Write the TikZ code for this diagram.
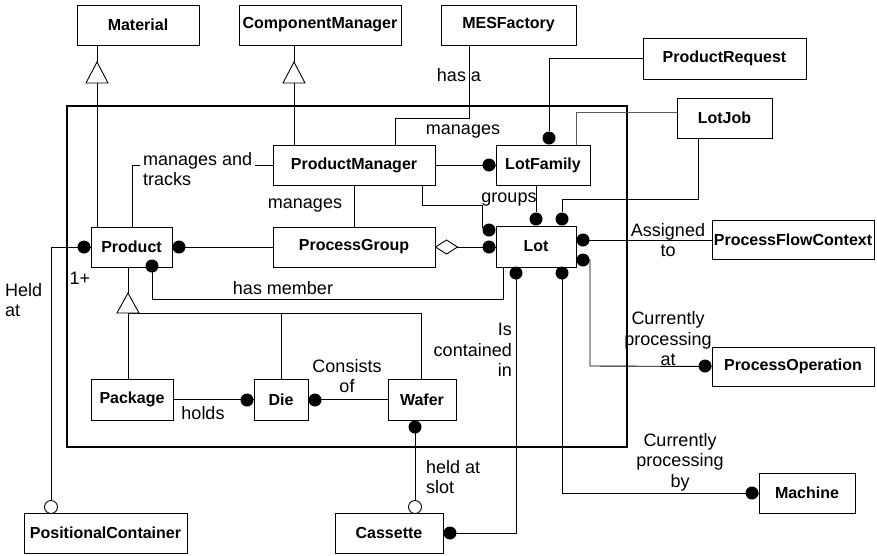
\documentclass[tikz,border=0pt]{standalone}
\usepackage{fontspec}
\setmainfont{Liberation Sans}
\newcommand\dotat[1]{\fill (#1) circle (6.5pt);}
\newcommand\odotat[1]{\filldraw[fill=white, line width=0.9pt] (#1) circle (6.5pt);}
\begin{document}
\begin{tikzpicture}[x=1pt,y=-1pt,
  box/.style={draw, line width=1pt, inner sep=0pt, font=\fontsize{16}{18}\selectfont\bfseries},
  sz/.style 2 args={minimum width=#1pt, minimum height=#2pt},
  lbl/.style={font=\fontsize{18}{20.5}\selectfont, inner sep=0pt, align=center},
  conn/.style={line width=0.9pt},
  faint/.style={line width=0.6pt, black!65}]
\useasboundingbox (0,0) rectangle (877,555);
% frame
\draw[line width=2pt] (67,106) rectangle (627,447);
% boxes
\node[box, sz={122}{40}] (Material) at (138,25) {Material};
\node[box, sz={162}{40}] (ComponentManager) at (320,25) {ComponentManager};
\node[box, sz={135}{40}] (MESFactory) at (508.5,25) {MESFactory};
\node[box, sz={163}{41}] (ProductRequest) at (724.5,58.5) {ProductRequest};
\node[box, sz={95}{40}] (LotJob) at (724.5,118) {LotJob};
\node[box, sz={162}{40}] (ProductManager) at (354,165) {ProductManager};
\node[box, sz={94}{40}] (LotFamily) at (543,165) {LotFamily};
\node[box, sz={81}{40}] (Product) at (131.5,247) {Product};
\node[box, sz={162}{40}] (ProcessGroup) at (354,247) {ProcessGroup};
\node[box, sz={80}{41}] (Lot) at (536,246.5) {Lot};
\node[box, sz={162}{39}] (ProcessFlowContext) at (793,239.5) {ProcessFlowContext};
\node[box, sz={162}{39}] (ProcessOperation) at (793,366.5) {ProcessOperation};
\node[box, sz={82}{41}] (Package) at (132,399.5) {Package};
\node[box, sz={54}{41}] (Die) at (281,399.5) {Die};
\node[box, sz={68}{41}] (Wafer) at (422,399.5) {Wafer};
\node[box, sz={163}{40}] (PositionalContainer) at (105.5,533) {PositionalContainer};
\node[box, sz={108}{40}] (Cassette) at (389,533) {Cassette};
\node[box, sz={96}{40}] (Machine) at (807,493) {Machine};
% generalizations
\draw[conn] (97,0 |- Material.south) -- (97,62);
\draw[conn] (97,83) -- (97,0 |- Product.north);
\filldraw[conn, fill=white] (97,62) -- (86,83) -- (108,83) -- cycle;
\draw[conn] (294,0 |- ComponentManager.south) -- (294,62);
\draw[conn] (294,83) -- (294,0 |- ProductManager.north);
\filldraw[conn, fill=white] (294,62) -- (283,83) -- (305,83) -- cycle;
\draw[conn] (128,0 |- Product.south) -- (128,293);
\draw[conn] (128,313) -- (128,0 |- Package.north);
\draw[conn] (128,313) -| (421,0 |- Wafer.north);
\draw[conn] (281,313) -- (281,0 |- Die.north);
\filldraw[conn, fill=white] (128,293) -- (117,313) -- (139,313) -- cycle;
% associations
\draw[conn] (469,0 |- MESFactory.south) |- (395,118) -- (395,0 |- ProductManager.north);
\draw[conn] (ProductRequest.west) -| (549,131);
\draw[faint] (LotJob.west |- 0,112) -| (576,0 |- LotFamily.north);
\draw[conn] (698,0 |- LotJob.south) |- (562,199) -- (562,212);
\draw[conn] (536,0 |- LotFamily.south) -- (536,212);
\draw[conn] (ProductManager.east) -- (LotFamily.west);
\draw[conn] (354,0 |- ProductManager.south) -- (354,0 |- ProcessGroup.north);
\draw[conn] (422,0 |- ProductManager.south) |- (482,205) -- (482,228);
\draw[conn] (132,0 |- Product.north) |- (ProductManager.west);
\draw[conn] (ProcessGroup.east) -- (Lot.west |- ProcessGroup.east);
\filldraw[conn, fill=white] (ProcessGroup.east) -- ++(11,-7) -- ++(11,7) -- ++(-11,7) -- cycle;
\draw[conn] (Product.east) -- (ProcessGroup.west);
\draw[conn] (Product.west) -| (51,0 |- PositionalContainer.north);
\draw[conn] (152,0 |- Product.south) |- (503,299) -- (503,0 |- Lot.south);
\draw[conn] (516,0 |- Lot.south) |- (Cassette.east);
\draw[conn] (562,0 |- Lot.south) |- (Machine.west);
\draw[conn] (Lot.east |- 0,260) -| (590,366) -- (ProcessOperation.west);
\draw[conn] (Lot.east |- 0,240) -- (ProcessFlowContext.west |- 0,240);
\draw[conn] (Package.east) -- (Die.west);
\draw[conn] (Die.east) -- (Wafer.west);
\draw[conn] (415,0 |- Wafer.south) -- (415,0 |- Cassette.north);
% end markers
\dotat{549,138}
\dotat{489,165}
\dotat{536,219}
\dotat{562,219}
\dotat{489,230}
\dotat{489,247}
\dotat{583,240}
\dotat{583,260}
\dotat{516,273}
\dotat{562,273}
\dotat{84,247}
\dotat{179,247}
\dotat{152,266}
\dotat{247,400}
\dotat{315,400}
\dotat{415,427}
\dotat{450,533}
\dotat{705,366}
\dotat{752,493}
\odotat{51,507}
\odotat{415,507}
% labels
\node[lbl] (lhasa) at (459,75) {has a};
\node[lbl] (lmanages1) at (463,132) {manages};
\node[lbl, align=left, anchor=west, fill=white, inner sep=3pt] (lmat) at (140,169) {manages and\\tracks};
\node[lbl] (lmanages2) at (305,206) {manages};
\node[lbl] (lgroups) at (509,200) {groups};
\node[lbl] (lassigned) at (668,240) {Assigned\\to};
\node[lbl] (lcpat) at (668,339) {Currently\\processing\\at};
\node[lbl] (lcpby) at (680,462) {Currently\\processing\\by};
\node[lbl, align=right, anchor=east] (lcont) at (512,350) {Is\\contained\\in};
\node[lbl, align=left, anchor=west] (lslot) at (426,477) {held at\\slot};
\node[lbl, align=left, anchor=west] (lheld) at (5,300) {Held\\at};
\node[lbl] (lone) at (80,278) {1+};
\node[lbl] (lmember) at (283,288) {has member};
\node[lbl] (lholds) at (203,413) {holds};
\node[lbl] (lconsists) at (347,376) {Consists\\of};
\end{tikzpicture}
\end{document}
